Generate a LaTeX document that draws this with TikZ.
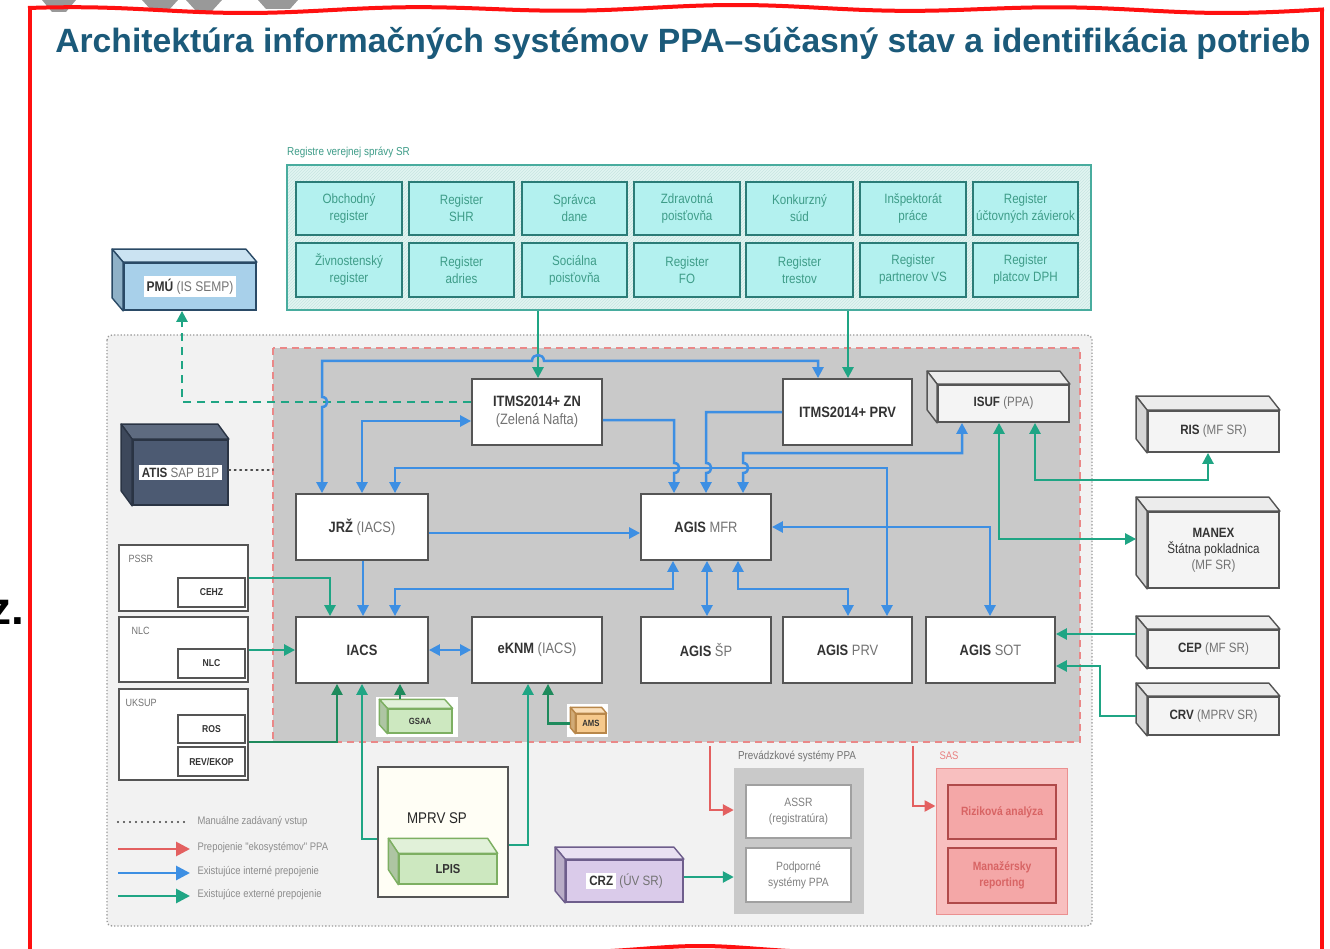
\documentclass[tikz,border=0pt]{standalone}
\usepackage{fontspec}
\usepackage{graphicx}
\setmainfont{Liberation Sans}
\newfontfamily\nsans{Liberation Sans}[FakeStretch=0.86]
\usetikzlibrary{arrows.meta,calc,patterns}
\definecolor{titlec}{HTML}{1B5A7A}
\definecolor{blu}{HTML}{3D8FE3}
\definecolor{grn}{HTML}{1FA584}
\definecolor{dgrn}{HTML}{1E8A5C}
\definecolor{redl}{HTML}{E36060}
\definecolor{bline}{HTML}{555555}
\definecolor{innerg}{HTML}{C9C9C9}
\definecolor{outerg}{HTML}{F2F2F2}
\definecolor{regfill}{HTML}{B3F1EF}
\definecolor{regbg}{HTML}{E2F5F2}
\definecolor{regline}{HTML}{2B7C77}
\definecolor{regtext}{HTML}{3E9C88}
\definecolor{reggroup}{HTML}{48AC9E}
\definecolor{pmublue}{HTML}{A8D0EA}
\definecolor{pmuline}{HTML}{2A4A66}
\definecolor{atis}{HTML}{4C5A72}
\definecolor{atisline}{HTML}{2A3444}
\definecolor{cubew}{HTML}{F4F4F4}
\definecolor{cubetop}{HTML}{ECECEC}
\definecolor{cubeside}{HTML}{D6D6D6}
\definecolor{lgreen}{HTML}{CDE8C0}
\definecolor{lgreenline}{HTML}{7DAF62}
\definecolor{amsfill}{HTML}{F6C98C}
\definecolor{amsline}{HTML}{B8874A}
\definecolor{purp}{HTML}{DACBEA}
\definecolor{purpline}{HTML}{6E5E8C}
\definecolor{sasfill}{HTML}{F8BFBF}
\definecolor{sasin}{HTML}{F4A7A7}
\definecolor{sasline}{HTML}{B04A4A}
\definecolor{sastext}{HTML}{D86464}
\definecolor{prevline}{HTML}{A0A0A0}
\definecolor{framec}{HTML}{FF1010}
\newcommand{\grt}[1]{{\color{black!55}#1}}
\newcommand{\bx}[7]{\node[#6, minimum width={(#4-#2)*1pt}, minimum height={(#5-#3)*1pt}] (#1) at ({(#2+#4)/2},{(#3+#5)/2}) {#7};}
\newcommand{\cubefaces}[6]{%
  \filldraw[draw=#6, line width=1.4pt, line join=round, fill=#4] (#1.north west) -- ++(-#2,-#3) -- ($(#1.north east)+(-#2,-#3)$) -- (#1.north east) -- cycle;
  \filldraw[draw=#6, line width=1.4pt, line join=round, fill=#5] (#1.north west) -- ++(-#2,-#3) -- ($(#1.south west)+(-#2,-#3)$) -- (#1.south west) -- cycle;}
\tikzset{
  >={Triangle[length=11pt,width=11pt]},
  sys/.style={draw=bline, line width=1.8pt, fill=white, align=center, inner sep=1pt, text=black!80, font=\nsans\fontsize{15}{18}\selectfont},
  extc/.style={sys, fill=cubew, font=\nsans\fontsize{13.5}{16}\selectfont},
  smallc/.style={draw=bline, line width=1.3pt, align=center, inner sep=0pt, text=black!80, font=\nsans\bfseries\fontsize{9}{10}\selectfont},
  reg/.style={draw=regline, line width=1.8pt, fill=regfill, align=center, inner sep=0pt, text=regtext, font=\nsans\fontsize{13.5}{17}\selectfont},
  reggrp/.style={draw=reggroup, line width=1.6pt, preaction={fill=regbg}, pattern=north east lines, pattern color=reggroup!30},
  lbox/.style={draw=bline, line width=1.6pt, fill=white},
  ibox/.style={draw=bline, line width=1.6pt, fill=white, font=\nsans\bfseries\fontsize{10}{11}\selectfont, text=black!80},
  pbox/.style={draw=prevline, line width=1.4pt, fill=white, align=center, text=black!50, font=\nsans\fontsize{12}{16}\selectfont},
  sbox/.style={draw=sasline, line width=1.8pt, fill=sasin, align=center, text=sastext, font=\nsans\bfseries\fontsize{12}{16}\selectfont},
  blink/.style={draw=blu, line width=2.5pt},
  glink/.style={draw=grn, line width=2.5pt},
  gdlink/.style={draw=dgrn, line width=2.3pt},
  rlink/.style={draw=redl, line width=2.5pt},
  lgtext/.style={anchor=west, text=black!45, font=\nsans\fontsize{11}{13}\selectfont},
  grplabel/.style={anchor=west, text=black!55, font=\nsans\fontsize{10.5}{12}\selectfont},
}
\begin{document}
\begin{tikzpicture}[x=1pt,y=-1pt]
\useasboundingbox (0,0) rectangle (1330,949);
\fill[white] (0,0) rectangle (1330,949);
% fragments at the edges
\fill[black!40] (42,0) -- (52,12) -- (66,12) -- (76,0) -- cycle;
\fill[black!40] (142,0) -- (152,11) -- (168,11) -- (178,0) -- (186,0) -- (196,11) -- (212,11) -- (222,0) -- cycle;
\fill[black!40] (258,0) -- (266,9) -- (290,9) -- (298,0) -- cycle;
\node[anchor=base east, font=\bfseries\fontsize{46}{46}\selectfont, inner sep=0pt] (zfrag) at (24,624) {z.};
% title
\node[text=titlec, inner sep=0pt] (title) at (683,43) {\resizebox{1255pt}{!}{\bfseries Architektúra informačných systémov PPA–súčasný stav a identifikácia potrieb}};
% regions
\draw[black!40, line width=1.3pt, dotted, fill=outerg, rounded corners=5pt] (107,335) rectangle (1092,926);
\draw[redl!75, line width=1.6pt, dash pattern=on 7pt off 5pt, fill=innerg] (273,348) rectangle (1080,742);
% registers
\node[anchor=west, text=regtext, inner sep=0pt, font=\nsans\fontsize{11.5}{12}\selectfont] (reglabel) at (287,152) {Registre verejnej správy SR};
\bx{regs}{287}{165}{1091}{310}{reggrp}{}
\bx{r1}{296}{182}{402}{235}{reg}{Obchodný\\register}
\bx{r2}{409}{182}{514}{235}{reg}{Register\\SHR}
\bx{r3}{522}{182}{627}{235}{reg}{Správca\\dane}
\bx{r4}{634}{182}{740}{235}{reg}{Zdravotná\\poisťovňa}
\bx{r5}{746}{182}{853}{235}{reg}{Konkurzný\\súd}
\bx{r6}{860}{182}{966}{235}{reg}{Inšpektorát\\práce}
\bx{r7}{973}{182}{1078}{235}{reg}{Register\\účtovných závierok}
\bx{r8}{296}{243}{402}{297}{reg}{Živnostenský\\register}
\bx{r9}{409}{243}{514}{297}{reg}{Register\\adries}
\bx{r10}{522}{243}{627}{297}{reg}{Sociálna\\poisťovňa}
\bx{r11}{634}{243}{740}{297}{reg}{Register\\FO}
\bx{r12}{746}{243}{853}{297}{reg}{Register\\trestov}
\bx{r13}{860}{243}{966}{297}{reg}{Register\\partnerov VS}
\bx{r14}{973}{243}{1078}{297}{reg}{Register\\platcov DPH}
% PMU and ATIS
\bx{pmu}{124}{263}{256}{310}{extc, fill=pmublue, draw=pmuline, font=\nsans\fontsize{14}{16}\selectfont}{\colorbox{white}{\textbf{PMÚ} \grt{(IS SEMP)}}}
\cubefaces{pmu}{11}{13}{pmublue!60!white}{pmublue!85!black}{pmuline}
\bx{atis}{133}{440}{228}{505}{extc, fill=atis, draw=atisline}{\colorbox{white}{\textbf{ATIS} \grt{SAP B1P}}}
\cubefaces{atis}{11}{15}{atis!90!white}{atis!80!black}{atisline}
% main boxes
\bx{itzn}{472}{379}{602}{445}{sys}{\textbf{ITMS2014+ ZN}\\\grt{(Zelená Nafta)}}
\bx{itprv}{783}{379}{912}{445}{sys}{\textbf{ITMS2014+ PRV}}
\bx{jrz}{296}{494}{428}{560}{sys}{\textbf{JRŽ} \grt{(IACS)}}
\bx{mfr}{641}{494}{771}{560}{sys}{\textbf{AGIS} \grt{MFR}}
\bx{iacs}{296}{617}{428}{683}{sys}{\textbf{IACS}}
\bx{eknm}{472}{617}{602}{683}{sys}{\textbf{eKNM} \grt{(IACS)}}
\bx{sp}{641}{617}{771}{683}{sys}{\textbf{AGIS} \grt{ŠP}}
\bx{prv}{783}{617}{912}{683}{sys}{\textbf{AGIS} \grt{PRV}}
\bx{sot}{926}{617}{1055}{683}{sys}{\textbf{AGIS} \grt{SOT}}
% external cubes
\bx{isuf}{938}{385}{1069}{422}{extc}{\textbf{ISUF} \grt{(PPA)}}
\cubefaces{isuf}{10}{13}{cubetop}{cubeside}{bline}
\bx{ris}{1148}{411}{1279}{452}{extc}{\textbf{RIS} \grt{(MF SR)}}
\cubefaces{ris}{11}{14}{cubetop}{cubeside}{bline}
\bx{manex}{1148}{512}{1279}{588}{extc}{\textbf{MANEX}\\Štátna pokladnica\\\grt{(MF SR)}}
\cubefaces{manex}{11}{14}{cubetop}{cubeside}{bline}
\bx{cep}{1148}{630}{1279}{668}{extc}{\textbf{CEP} \grt{(MF SR)}}
\cubefaces{cep}{11}{13}{cubetop}{cubeside}{bline}
\bx{crv}{1148}{697}{1279}{735}{extc}{\textbf{CRV} \grt{(MPRV SR)}}
\cubefaces{crv}{11}{13}{cubetop}{cubeside}{bline}
% left groups
\bx{pssr}{119}{545}{248}{611}{lbox}{}
\node[grplabel] (pssrl) at (125,559) {PSSR};
\bx{cehz}{178}{578}{245}{607}{ibox}{CEHZ}
\bx{nlcg}{119}{617}{248}{682}{lbox}{}
\node[grplabel] (nlcl) at (128,631) {NLC};
\bx{nlc}{178}{649}{245}{678}{ibox}{NLC}
\bx{uksup}{119}{689}{248}{780}{lbox}{}
\node[grplabel] (uksupl) at (122,703) {UKSUP};
\bx{ros}{178}{715}{245}{743}{ibox}{ROS}
\bx{rev}{178}{747}{245}{776}{ibox}{REV/EKOP}
% small cubes
\fill[white] (376,697) rectangle (458,737);
\bx{gsaa}{388}{709}{452}{733}{smallc, fill=lgreen, draw=lgreenline}{GSAA}
\cubefaces{gsaa}{8}{9}{lgreen!60!white}{lgreen!85!black}{lgreenline}
\fill[white] (567,704) rectangle (608,737);
\bx{ams}{576}{714}{606}{733}{smallc, fill=amsfill, draw=amsline}{AMS}
\cubefaces{ams}{5}{6}{amsfill!60!white}{amsfill!85!black}{amsline}
% MPRV SP
\bx{mprv}{378}{767}{508}{897}{lbox, fill=white!96!yellow}{}
\node[font=\nsans\fontsize{15.5}{17}\selectfont, text=black!85] (mprvl) at (437,818) {MPRV SP};
\bx{lpis}{399}{854}{497}{884}{smallc, fill=lgreen, draw=lgreenline, font=\nsans\bfseries\fontsize{13}{14}\selectfont}{LPIS}
\cubefaces{lpis}{10}{15}{lgreen!60!white}{lgreen!85!black}{lgreenline}
% CRZ
\bx{crz}{566}{860}{683}{902}{extc, fill=purp, draw=purpline}{\colorbox{white}{\textbf{CRZ}} \grt{(ÚV SR)}}
\cubefaces{crz}{10}{12}{purp!60!white}{purp!85!black}{purpline}
% prevadzkove systemy
\node[text=black!55, font=\nsans\fontsize{11.5}{12}\selectfont] (prevl) at (797,756) {Prevádzkové systémy PPA};
\bx{prev}{734}{768}{864}{914}{draw=none, fill=innerg}{}
\bx{assr}{746}{785}{851}{838}{pbox}{ASSR\\(registratúra)}
\bx{podp}{746}{848}{851}{902}{pbox}{Podporné\\systémy PPA}
% SAS
\node[anchor=west, text=redl!80, font=\nsans\fontsize{11}{12}\selectfont] (sasl) at (936,756) {SAS};
\bx{sas}{936}{768}{1067}{914}{draw=redl!70, line width=1pt, fill=sasfill}{}
\bx{riz}{948}{785}{1056}{839}{sbox}{Riziková analýza}
\bx{man}{948}{848}{1056}{903}{sbox}{Manažérsky\\reporting}
% ===== connectors =====
% green external
\draw[glink,->] (538,0 |- regs.south) -- (538,0 |- itzn.north);
\draw[glink,->] (848,0 |- regs.south) -- (848,0 |- itprv.north);
\draw[glink, dash pattern=on 8pt off 6pt, ->] (itzn.west |- 0,402) -| (182,0 |- pmu.south);
\draw[glink,<->] (999,0 |- isuf.south) |- ([xshift=-11pt]manex.west |- 0,539);
\draw[glink,<->] (1035,0 |- isuf.south) |- (1208,480) -- (1208,0 |- ris.south);
\draw[glink,<-] (sot.east |- 0,634) -- ([xshift=-11pt]cep.west |- 0,634);
\draw[glink,<-] (sot.east |- 0,666) -| (1100,0 |- crv.west) -- ([xshift=-11pt]crv.west);
\draw[glink,->] (pssr.east |- 0,578) -| (330,0 |- iacs.north);
\draw[glink,->] (nlcg.east |- 0,650) -- (iacs.west |- 0,650);
\draw[gdlink,->] (uksup.east |- 0,742) -| (337,0 |- iacs.south);
\draw[glink,->] (mprv.west |- 0,839) -| (362,0 |- iacs.south);
\draw[glink,->] (mprv.east |- 0,845) -| (528,0 |- eknm.south);
\draw[gdlink,->] (400,0 |- gsaa.north) ++(0,-9) -- (400,0 |- iacs.south);
\draw[gdlink,->] ([xshift=-5pt]ams.west) -| (548,0 |- eknm.south);
\draw[glink,->] (crz.east |- 0,877) -- (prev.west |- 0,877);
% dotted manual
\draw[black!70, line width=1.6pt, dash pattern=on 1.5pt off 4pt, line cap=round] (atis.east |- 0,470) -- (273,470);
% blue internal (with hops at crossings)
\draw[blink,<->] (322,0 |- jrz.north) -- (322,407) .. controls (329,407) and (329,397) .. (322,397) |- (532,361) .. controls (532,353) and (544,353) .. (544,361) -- (818,361) -- (818,0 |- itprv.north);
\draw[blink,<->] (362,0 |- jrz.north) |- (itzn.west |- 0,421);
\draw[blink,<->] (395,0 |- jrz.north) |- (887,468) -- (887,0 |- prv.north);
\draw[blink,->] (itzn.east |- 0,420) -| (674,463) .. controls (681,463) and (681,473) .. (674,473) -- (674,0 |- mfr.north);
\draw[blink,->] (itprv.west |- 0,412) -| (706,463) .. controls (713,463) and (713,473) .. (706,473) -- (706,0 |- mfr.north);
\draw[blink,<->] (743,0 |- mfr.north) -- (743,473) .. controls (750,473) and (750,463) .. (743,463) |- (962,453) -- (962,0 |- isuf.south);
\draw[blink,->] (jrz.east |- 0,533) -- (mfr.west |- 0,533);
\draw[blink,<->] (mfr.east |- 0,527) -| (990,0 |- sot.north);
\draw[blink,->] (363,0 |- jrz.south) -- (363,0 |- iacs.north);
\draw[blink,<->] (395,0 |- iacs.north) |- (673,589) -- (673,0 |- mfr.south);
\draw[blink,<->] (707,0 |- mfr.south) -- (707,0 |- sp.north);
\draw[blink,<->] (738,0 |- mfr.south) |- (848,589) -- (848,0 |- prv.north);
\draw[blink,<->] (iacs.east |- 0,650) -- (eknm.west |- 0,650);
% red
\coordinate (rs1) at (710,746);
\coordinate (rs2) at (913,746);
\draw[rlink,->] (rs1) |- (prev.west |- 0,810);
\draw[rlink,->] (rs2) |- (sas.west |- 0,806);
% legend
\coordinate (lg1a) at (118,822); \coordinate (lg1b) at (188,822);
\coordinate (lg2a) at (118,849); \coordinate (lg2b) at (190,849);
\coordinate (lg3a) at (118,873); \coordinate (lg3b) at (190,873);
\coordinate (lg4a) at (118,896); \coordinate (lg4b) at (190,896);
\draw[black!75, line width=2.2pt, dash pattern=on 0pt off 6pt, line cap=round] (lg1a) -- (lg1b);
\draw[redl, line width=2.8pt, -{Triangle[length=14pt,width=14pt]}] (lg2a) -- (lg2b);
\draw[blu, line width=2.8pt, -{Triangle[length=14pt,width=14pt]}] (lg3a) -- (lg3b);
\draw[grn, line width=2.8pt, -{Triangle[length=14pt,width=14pt]}] (lg4a) -- (lg4b);
\node[lgtext] (lgt1) at (194,822) {Manuálne zadávaný vstup};
\node[lgtext] (lgt2) at (194,848) {Prepojenie "ekosystémov" PPA};
\node[lgtext] (lgt3) at (194,872) {Existujúce interné prepojenie};
\node[lgtext] (lgt4) at (194,895) {Existujúce externé prepojenie};
% red frame
\draw[framec, line width=4pt] (30,960) -- (30,10);
\draw[framec, line width=4pt, line join=round] plot[domain=28:1324, samples=90, smooth] (\x,{9-2.5*sin(\x*1.1)+1.5*sin(\x*0.37)});
\draw[framec, line width=4pt] (1322,960) -- (1322,8);
\draw[framec, line width=4pt] plot[domain=540:880, samples=40, smooth] (\x,{953-7*exp(-((\x-700)/80)^2)});
\end{tikzpicture}
\end{document}
